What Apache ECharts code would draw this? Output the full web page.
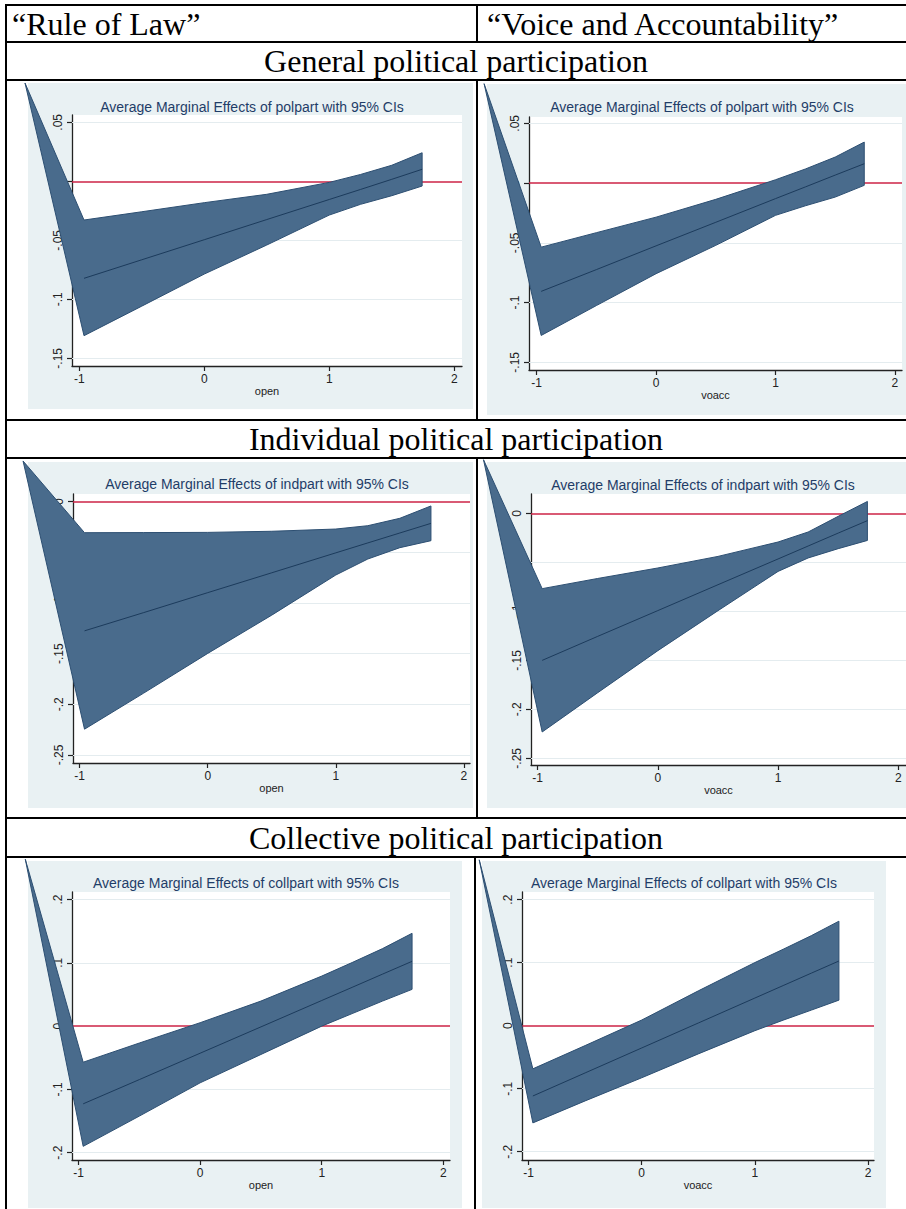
<!DOCTYPE html>
<html><head><meta charset="utf-8">
<script src="https://cdn.jsdelivr.net/npm/echarts@6/dist/echarts.min.js"></script>
<style>html,body{margin:0;padding:0;background:#fff}#c{width:906px;height:1209px}</style>
</head><body><div id="c"></div>
<script>
// ---------------- DATA ----------------
const bandX = [-0.962, -0.5, 0, 0.5, 1, 1.25, 1.5, 1.743];

const polpartOpenEst = [-0.0822, -0.0665, -0.0495, -0.0324, -0.0154, -0.0069, 0.0017, 0.0102];
const polpartOpenHi  = [-0.0328, -0.0258, -0.0181, -0.0110, -0.0009, 0.0058, 0.0136, 0.0242];
const polpartOpenLo  = [-0.1308, -0.1058, -0.0786, -0.0540, -0.0286, -0.0195, -0.0122, -0.0040];
const polpartOpenApex = [-1.434, 0.0833];

const polpartVoaccEst = [-0.0906, -0.0724, -0.0525, -0.0328, -0.0130, -0.0032, 0.0067, 0.0162];
const polpartVoaccHi  = [-0.0536, -0.0415, -0.0285, -0.0136, 0.0028, 0.0118, 0.0218, 0.0343];
const polpartVoaccLo  = [-0.1275, -0.1025, -0.0758, -0.0521, -0.0270, -0.0190, -0.0117, -0.0019];
const polpartVoaccApex = [-1.440, 0.0832];

const indpartOpenEst = [-0.1275, -0.1095, -0.0898, -0.0702, -0.0505, -0.0407, -0.0309, -0.0214];
const indpartOpenHi  = [-0.0306, -0.0305, -0.0303, -0.0292, -0.0270, -0.0237, -0.0164, -0.0042];
const indpartOpenLo  = [-0.2246, -0.1890, -0.1498, -0.1120, -0.0724, -0.0566, -0.0454, -0.0385];
const indpartOpenApex = [-1.442, 0.0402];

const indpartVoaccEst = [-0.1500, -0.1255, -0.0992, -0.0728, -0.0465, -0.0333, -0.0201, -0.0074];
const indpartVoaccHi  = [-0.0768, -0.0664, -0.0557, -0.0439, -0.0292, -0.0190, -0.0030, 0.0122];
const indpartVoaccLo  = [-0.2231, -0.1830, -0.1401, -0.0993, -0.0592, -0.0455, -0.0360, -0.0276];
const indpartVoaccApex = [-1.450, 0.0548];

const collpartOpenEst = [-0.1228, -0.0845, -0.0428, -0.0012, 0.0405, 0.0613, 0.0822, 0.1024];
const collpartOpenHi  = [-0.0570, -0.0267, 0.0054, 0.0396, 0.0791, 0.1005, 0.1225, 0.1467];
const collpartOpenLo  = [-0.1900, -0.1422, -0.0896, -0.0448, 0.0000, 0.0198, 0.0396, 0.0581];
const collpartOpenApex = [-1.438, 0.2638];

const collpartVoaccEst = [-0.1115, -0.0749, -0.0353, 0.0043, 0.0439, 0.0637, 0.0835, 0.1027];
const collpartVoaccHi  = [-0.0684, -0.0315, 0.0090, 0.0553, 0.1002, 0.1213, 0.1430, 0.1659];
const collpartVoaccLo  = [-0.1542, -0.1193, -0.0826, -0.0447, -0.0079, 0.0088, 0.0248, 0.0406];
const collpartVoaccApex = [-1.436, 0.2633];

const xTickValues = [-1, 0, 1, 2];
const xTickLabels = ['-1', '0', '1', '2'];
const yTicksPolpart = [-0.15, -0.1, -0.05, 0, 0.05];
const yLabelsPolpart = ['-.15', '-.1', '-.05', '0', '.05'];
const yTicksIndpart = [-0.25, -0.2, -0.15, -0.1, -0.05, 0];
const yLabelsIndpart = ['-.25', '-.2', '-.15', '-.1', '-.05', '0'];
const yTicksCollpart = [-0.2, -0.1, 0, 0.1, 0.2];
const yLabelsCollpart = ['-.2', '-.1', '0', '.1', '.2'];

const columnHeaders = ['\u201CRule of Law\u201D', '\u201CVoice and Accountability\u201D'];
const rowHeaders = ['General political participation', 'Individual political participation', 'Collective political participation'];
const plotTitles = ['Average Marginal Effects of polpart with 95% CIs', 'Average Marginal Effects of indpart with 95% CIs', 'Average Marginal Effects of collpart with 95% CIs'];
const xNames = ['open', 'voacc'];

// ---------------- LAYOUT ----------------
const panels = [
  {est: polpartOpenEst, hi: polpartOpenHi, lo: polpartOpenLo, apex: polpartOpenApex, yt: yTicksPolpart, yl: yLabelsPolpart, title: plotTitles[0], xname: xNames[0],
   grid: {left: 72, top: 115, width: 390, height: 251}, xr: [-1.058, 2.062], yr: [-0.1565, 0.0562], bg: [28, 83, 445, 326], tpos: [252, 107]},
  {est: polpartVoaccEst, hi: polpartVoaccHi, lo: polpartVoaccLo, apex: polpartVoaccApex, yt: yTicksPolpart, yl: yLabelsPolpart, title: plotTitles[0], xname: xNames[1],
   grid: {left: 529, top: 117, width: 373, height: 253}, xr: [-1.064, 2.059], yr: [-0.1564, 0.0553], bg: [487, 84, 419, 331], tpos: [702, 107]},
  {est: indpartOpenEst, hi: indpartOpenHi, lo: indpartOpenLo, apex: indpartOpenApex, yt: yTicksIndpart, yl: yLabelsIndpart, title: plotTitles[1], xname: xNames[0],
   grid: {left: 73, top: 494, width: 397, height: 269}, xr: [-1.052, 2.048], yr: [-0.258, 0.0076], bg: [28, 462, 445, 346], tpos: [257, 484]},
  {est: indpartVoaccEst, hi: indpartVoaccHi, lo: indpartVoaccLo, apex: indpartVoaccApex, yt: yTicksIndpart, yl: yLabelsIndpart, title: plotTitles[1], xname: xNames[1],
   grid: {left: 531, top: 494, width: 375, height: 271}, xr: [-1.055, 2.064], yr: [-0.2568, 0.0198], bg: [487, 462, 419, 346], tpos: [703, 485]},
  {est: collpartOpenEst, hi: collpartOpenHi, lo: collpartOpenLo, apex: collpartOpenApex, yt: yTicksCollpart, yl: yLabelsCollpart, title: plotTitles[2], xname: xNames[0],
   grid: {left: 72, top: 892, width: 378, height: 268}, xr: [-1.054, 2.055], yr: [-0.2116, 0.212], bg: [28, 861, 434, 347], tpos: [246, 883]},
  {est: collpartVoaccEst, hi: collpartVoaccHi, lo: collpartVoaccLo, apex: collpartVoaccApex, yt: yTicksCollpart, yl: yLabelsCollpart, title: plotTitles[2], xname: xNames[1],
   grid: {left: 522, top: 892, width: 352, height: 268}, xr: [-1.058, 2.053], yr: [-0.2131, 0.2122], bg: [482, 861, 404, 347], tpos: [684, 883]}
];

const BAND_FILL = '#496b8c';
const BAND_STROKE = '#2d4f72';
const EST_COLOR = '#1c3b5c';
const ZERO_COLOR = '#cc2346';
const GRIDLINE = '#e4ecef';
const BG = '#e9f1f3';
const TITLE_COLOR = '#1f3d68';
const SANS = '"Liberation Sans", Arial, sans-serif';
const SERIF = '"Liberation Serif", "Times New Roman", serif';

function labelFor(values, labels) {
  return function (v) {
    for (let i = 0; i < values.length; i++) if (Math.abs(values[i] - v) < 1e-9) return labels[i];
    return '';
  };
}

const grids = [], xAxes = [], yAxes = [], series = [], graphics = [];

panels.forEach((p, i) => {
  grids.push(Object.assign({show: true, backgroundColor: '#ffffff', borderWidth: 0, containLabel: false}, p.grid));
  xAxes.push({
    type: 'value', gridIndex: i, min: p.xr[0], max: p.xr[1],
    name: p.xname, nameLocation: 'middle', nameGap: 17,
    nameTextStyle: {fontFamily: SANS, fontSize: 11, color: '#222'},
    axisLine: {show: true, onZero: false, lineStyle: {color: '#222', width: 1.3}},
    axisTick: {show: true, length: 5, customValues: xTickValues, lineStyle: {color: '#222', width: 1.2}},
    axisLabel: {show: true, margin: 7, fontFamily: SANS, fontSize: 12, color: '#222', customValues: xTickValues, formatter: labelFor(xTickValues, xTickLabels)},
    splitLine: {show: false}
  });
  yAxes.push({
    type: 'value', gridIndex: i, min: p.yr[0], max: p.yr[1],
    axisLine: {show: true, onZero: false, lineStyle: {color: '#222', width: 1.3}},
    axisTick: {show: true, length: 5, customValues: p.yt, lineStyle: {color: '#222', width: 1.2}},
    axisLabel: {show: true, rotate: 90, margin: 8, fontFamily: SANS, fontSize: 12, color: '#222', customValues: p.yt, formatter: labelFor(p.yt, p.yl)},
    splitLine: {show: false}
  });
  // gridlines + zero line (beneath the band)
  const ml = p.yt.filter(v => v !== 0).map(v => ({yAxis: v, lineStyle: {color: GRIDLINE, width: 1, type: 'solid'}}));
  ml.push({yAxis: 0, lineStyle: {color: ZERO_COLOR, width: 1.6, type: 'solid'}});
  series.push({
    type: 'line', xAxisIndex: i, yAxisIndex: i, data: [], z: 1, silent: true,
    markLine: {z: 1, symbol: 'none', silent: true, label: {show: false}, animation: false, data: ml}
  });
  // CI band (rarea polygon, incl. the stray vertex seen in the original export)
  const bandData = bandX.map((x, k) => [x, p.lo[k], p.hi[k]]);
  series.push({
    type: 'custom', xAxisIndex: i, yAxisIndex: i, z: 3, clip: false, silent: true,
    data: bandData, encode: {x: 0, y: [1, 2]},
    renderItem: function (params, api) {
      if (params.dataIndex !== 0) return null;
      const pts = [api.coord(p.apex)];
      for (let k = 0; k < bandData.length; k++) pts.push(api.coord([bandData[k][0], bandData[k][2]]));
      for (let k = bandData.length - 1; k >= 0; k--) pts.push(api.coord([bandData[k][0], bandData[k][1]]));
      return {type: 'polygon', shape: {points: pts}, style: {fill: BAND_FILL, stroke: BAND_STROKE, lineWidth: 1}};
    }
  });
  // point estimate
  series.push({
    type: 'line', xAxisIndex: i, yAxisIndex: i, z: 4, silent: true, showSymbol: false, symbol: 'none',
    data: bandX.map((x, k) => [x, p.est[k]]),
    lineStyle: {color: EST_COLOR, width: 1}
  });
  // graph-region background and title
  graphics.push({type: 'rect', z: -10, shape: {x: p.bg[0], y: p.bg[1], width: p.bg[2], height: p.bg[3]}, style: {fill: BG}});
  graphics.push({type: 'text', z: 50, x: p.tpos[0], y: p.tpos[1], style: {text: p.title, font: '14px ' + SANS, fill: TITLE_COLOR, textAlign: 'center', textVerticalAlign: 'middle'}});
});

// table lines
const LW = 2;
function hline(y, x1, x2) { graphics.push({type: 'line', z: 100, shape: {x1: x1, y1: y, x2: x2, y2: y}, style: {stroke: '#000', lineWidth: LW}}); }
function vline(x, y1, y2) { graphics.push({type: 'line', z: 100, shape: {x1: x, y1: y1, x2: x, y2: y2}, style: {stroke: '#000', lineWidth: LW}}); }
[5, 42, 80, 420, 458, 818, 857].forEach(y => hline(y, 5, 906));
vline(6, 4, 1209);
vline(477, 4, 42); vline(477, 80, 420); vline(477, 458, 818); vline(475, 857, 1209);

// header texts
graphics.push({type: 'text', z: 100, x: 12, y: 24, style: {text: columnHeaders[0], font: '32px ' + SERIF, fill: '#000', textAlign: 'left', textVerticalAlign: 'middle'}});
graphics.push({type: 'text', z: 100, x: 487, y: 24, style: {text: columnHeaders[1], font: '32px ' + SERIF, fill: '#000', textAlign: 'left', textVerticalAlign: 'middle'}});
[61, 439, 838].forEach((y, r) => {
  graphics.push({type: 'text', z: 100, x: 456, y: y, style: {text: rowHeaders[r], font: '32px ' + SERIF, fill: '#000', textAlign: 'center', textVerticalAlign: 'middle'}});
});

const chart = echarts.init(document.getElementById('c'), null, {renderer: 'svg', width: 906, height: 1209});
chart.setOption({
  animation: false,
  backgroundColor: '#ffffff',
  grid: grids, xAxis: xAxes, yAxis: yAxes, series: series,
  graphic: {elements: graphics}
});
</script>
</body></html>
